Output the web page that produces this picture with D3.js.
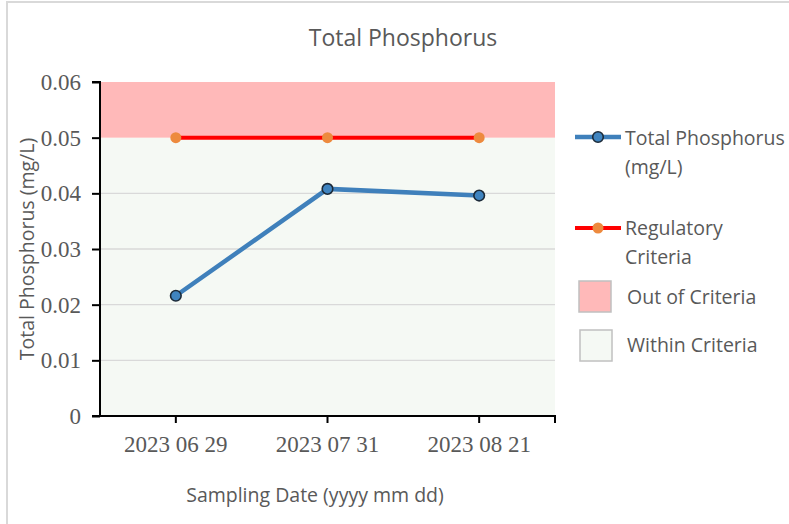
<!DOCTYPE html>
<html><head><meta charset="utf-8">
<script src="https://cdn.jsdelivr.net/npm/d3@7"></script>
<style>body{margin:0;background:#fff;}svg{display:block;}</style>
</head><body>
<svg id="chart" width="789" height="524"></svg>
<script>
const categories = ["2023 06 29", "2023 07 31", "2023 08 21"];
const phosphorus = [0.0216, 0.0408, 0.0396];
const criteria = [0.05, 0.05, 0.05];
const yTicks = [0, 0.01, 0.02, 0.03, 0.04, 0.05, 0.06];
const yTickLabels = ["0", "0.01", "0.02", "0.03", "0.04", "0.05", "0.06"];
const legendLabels = [["Total Phosphorus", "(mg/L)"], ["Regulatory", "Criteria"], ["Out of Criteria"], ["Within Criteria"]];

const svg = d3.select("#chart");
const sans = "'Open Sans', Lato, sans-serif";
const serif = "'Liberation Serif', 'Times New Roman', serif";
const L = 100, R = 555, T = 82, B = 416;

svg.append("rect").attr("x", 7).attr("y", 2).attr("width", 800).attr("height", 540)
  .attr("fill", "#fff").attr("stroke", "#d9d9d9").attr("stroke-width", 2);

const x = d3.scaleBand().domain(categories).range([L, R]);
const y = d3.scaleLinear().domain([0, 0.06]).range([B, T]);

// background zones
svg.append("rect").attr("x", L).attr("y", y(0.05)).attr("width", R - L).attr("height", y(0) - y(0.05)).attr("fill", "#f5f9f4");
svg.append("rect").attr("x", L).attr("y", y(0.06)).attr("width", R - L).attr("height", y(0.05) - y(0.06)).attr("fill", "#ffb9b9");

// gridlines
svg.append("g").selectAll("line").data(yTicks.filter(d => d > 0 && d < 0.05)).join("line")
  .attr("x1", L).attr("x2", R).attr("y1", d => y(d)).attr("y2", d => y(d))
  .attr("stroke", "#d9d9d9").attr("stroke-width", 1.3);

// y axis
const yAxis = d3.axisLeft(y).tickValues(yTicks).tickFormat((d, i) => yTickLabels[i]).tickSize(8).tickPadding(11);
const gy = svg.append("g").attr("transform", `translate(${L},0)`).call(yAxis);
gy.select(".domain").attr("stroke", "#000").attr("stroke-width", 2).attr("d", `M-8,${T}H0V${B}H-8`);
gy.selectAll(".tick line").attr("stroke", "#000").attr("stroke-width", 2);
gy.selectAll(".tick text").attr("font-family", serif).attr("font-size", 23).attr("fill", "#595959");

// x axis
const gx = svg.append("g").attr("transform", `translate(0,${B})`);
gx.append("line").attr("x1", L - 8).attr("x2", R + 1).attr("y1", 0).attr("y2", 0).attr("stroke", "#000").attr("stroke-width", 2);
const xTickPos = categories.map(c => x(c) + x.bandwidth() / 2).concat([R]);
gx.selectAll("line.t").data(xTickPos).join("line").attr("class", "t")
  .attr("x1", d => d).attr("x2", d => d).attr("y1", 0).attr("y2", 7).attr("stroke", "#000").attr("stroke-width", 2);
gx.selectAll("text").data(categories).join("text")
  .attr("x", d => x(d) + x.bandwidth() / 2).attr("y", 36).attr("text-anchor", "middle")
  .attr("font-family", serif).attr("font-size", 23).attr("fill", "#595959").text(d => d);

// regulatory criteria line
const line = d3.line().x((d, i) => x(categories[i]) + x.bandwidth() / 2).y(d => y(d));
svg.append("path").datum(criteria).attr("d", line).attr("fill", "none").attr("stroke", "#ff0000").attr("stroke-width", 4);
svg.append("g").selectAll("circle").data(criteria).join("circle")
  .attr("cx", (d, i) => x(categories[i]) + x.bandwidth() / 2).attr("cy", d => y(d)).attr("r", 5.5).attr("fill", "#ed8a3e");

// phosphorus line
svg.append("path").datum(phosphorus).attr("d", line).attr("fill", "none").attr("stroke", "#3f80bb").attr("stroke-width", 4.5);
svg.append("g").selectAll("circle").data(phosphorus).join("circle")
  .attr("cx", (d, i) => x(categories[i]) + x.bandwidth() / 2).attr("cy", d => y(d)).attr("r", 5.3)
  .attr("fill", "#3f84c0").attr("stroke", "#1c2a38").attr("stroke-width", 1.6);

// title
svg.append("text").attr("x", 403).attr("y", 46).attr("text-anchor", "middle")
  .attr("font-family", sans).attr("font-size", 23).attr("fill", "#595959").text("Total Phosphorus");

// axis titles
svg.append("text").attr("transform", `translate(34,249) rotate(-90)`).attr("text-anchor", "middle")
  .attr("font-family", sans).attr("font-size", 19.5).attr("fill", "#595959").text("Total Phosphorus (mg/L)");
svg.append("text").attr("x", 315).attr("y", 502).attr("text-anchor", "middle")
  .attr("font-family", sans).attr("font-size", 19.5).attr("fill", "#595959").text("Sampling Date (yyyy mm dd)");

// legend
const lg = svg.append("g");
const lgText = (lines, tx, ty) => {
  const t = lg.append("text").attr("font-family", sans).attr("font-size", 19.5).attr("fill", "#595959");
  lines.forEach((s, i) => t.append("tspan").attr("x", tx).attr("y", ty + i * 28.5).text(s));
};
lg.append("line").attr("x1", 575).attr("x2", 621).attr("y1", 137).attr("y2", 137).attr("stroke", "#3f80bb").attr("stroke-width", 4.5);
lg.append("circle").attr("cx", 598).attr("cy", 137).attr("r", 5.3).attr("fill", "#3f84c0").attr("stroke", "#1c2a38").attr("stroke-width", 1.6);
lgText(legendLabels[0], 625, 145);
lg.append("line").attr("x1", 575).attr("x2", 621).attr("y1", 228).attr("y2", 228).attr("stroke", "#ff0000").attr("stroke-width", 4);
lg.append("circle").attr("cx", 598).attr("cy", 228).attr("r", 5.5).attr("fill", "#ed8a3e");
lgText(legendLabels[1], 625, 235);
lg.append("rect").attr("x", 579).attr("y", 281).attr("width", 32).attr("height", 31).attr("fill", "#ffb9b9").attr("stroke", "#c0c0c0").attr("stroke-width", 1.5);
lgText(legendLabels[2], 627, 304);
lg.append("rect").attr("x", 580).attr("y", 330).attr("width", 32).attr("height", 31).attr("fill", "#f5f9f4").attr("stroke", "#c0c0c0").attr("stroke-width", 1.5);
lgText(legendLabels[3], 627, 352);
</script>
</body></html>
